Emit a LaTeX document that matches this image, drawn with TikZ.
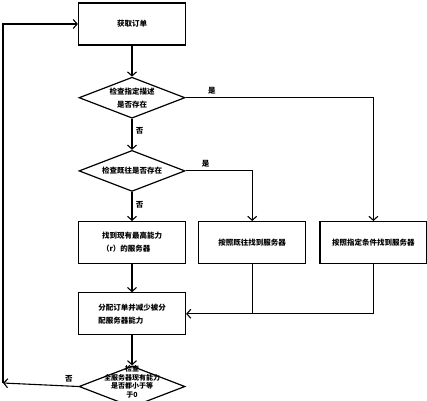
\documentclass[tikz,border=0pt]{standalone}
\usepackage{fontspec}
\usepackage{tikz}
\usetikzlibrary{arrows.meta,positioning,shapes.geometric}
\newfontfamily\cjk{Noto Sans CJK SC}

\begin{document}
\begin{tikzpicture}[
    x=1pt, y=-1pt,
    font=\cjk\bfseries\fontsize{7.5}{13}\selectfont,
    box/.style={draw, line width=1.2pt, minimum height=42pt, minimum width=107pt, inner sep=0pt},
    decision/.style={draw, diamond, line width=1.2pt, minimum height=41pt, minimum width=106pt, inner sep=0pt},
    dtext/.style={align=center, font=\cjk\bfseries\fontsize{7.5}{13}\selectfont},
    arrow/.style={-{Straight Barb[length=4pt,width=9pt]}, line width=1.1pt}
]
\clip (0,0) rectangle (427,400);
\useasboundingbox (0,0) rectangle (427,400);
\fill[white] (0,0) rectangle (427,400);

\node[box] (order) at (132,24) {获取订单};
\node[decision, below=31pt of order, label={[dtext]center:检查指定描述\\是否存在}] (chkdesc) {};
\node[decision, below=31pt of chkdesc, label={[dtext]center:检查既往是否存在}] (chkhist) {};
\node[box, below=29pt of chkhist, align=left] (findmax) {找到现有最高能力\\（r）的服务器};
\node[box, right=12pt of findmax] (findhist) {按照既往找到服务器};
\node[box, right=13pt of findhist] (findcond) {按照指定条件找到服务器};
\node[box, below=28pt of findmax, align=left] (assign) {分配订单并减少被分\\配服务器能力};
\node[decision, below=30pt of assign, label={[dtext, font=\cjk\bfseries\fontsize{7}{8.5}\selectfont, yshift=4.5pt]center:检查\\全服务器现有能力\\是否都小于等\\于0}] (chkall) {};
\coordinate (back) at (3,383);

\draw[arrow] (order) -- (chkdesc);
\draw[arrow] (chkdesc) -- node[right, pos=0.4] {否} (chkhist);
\draw[arrow] (chkdesc.east) -| node[pos=0.07, above] {是} (findcond.north);
\draw[arrow] (chkhist) -- node[right, pos=0.45] {否} (findmax);
\draw[arrow] (chkhist.east) -| node[pos=0.15, above] {是} (findhist.north);
\draw[arrow] (findmax) -- (assign);
\draw[arrow] (findcond.south) |- (assign.east);
\draw[line width=1.1pt] (findhist.south) -- (findhist.south |- assign.east);
\draw[arrow] (assign) -- (chkall);
\draw[arrow] (chkall.west) -- node[above, pos=0.1, xshift=-2pt] {否} (back);
\draw[arrow] (back) |- (order.west);
\end{tikzpicture}
\end{document}
